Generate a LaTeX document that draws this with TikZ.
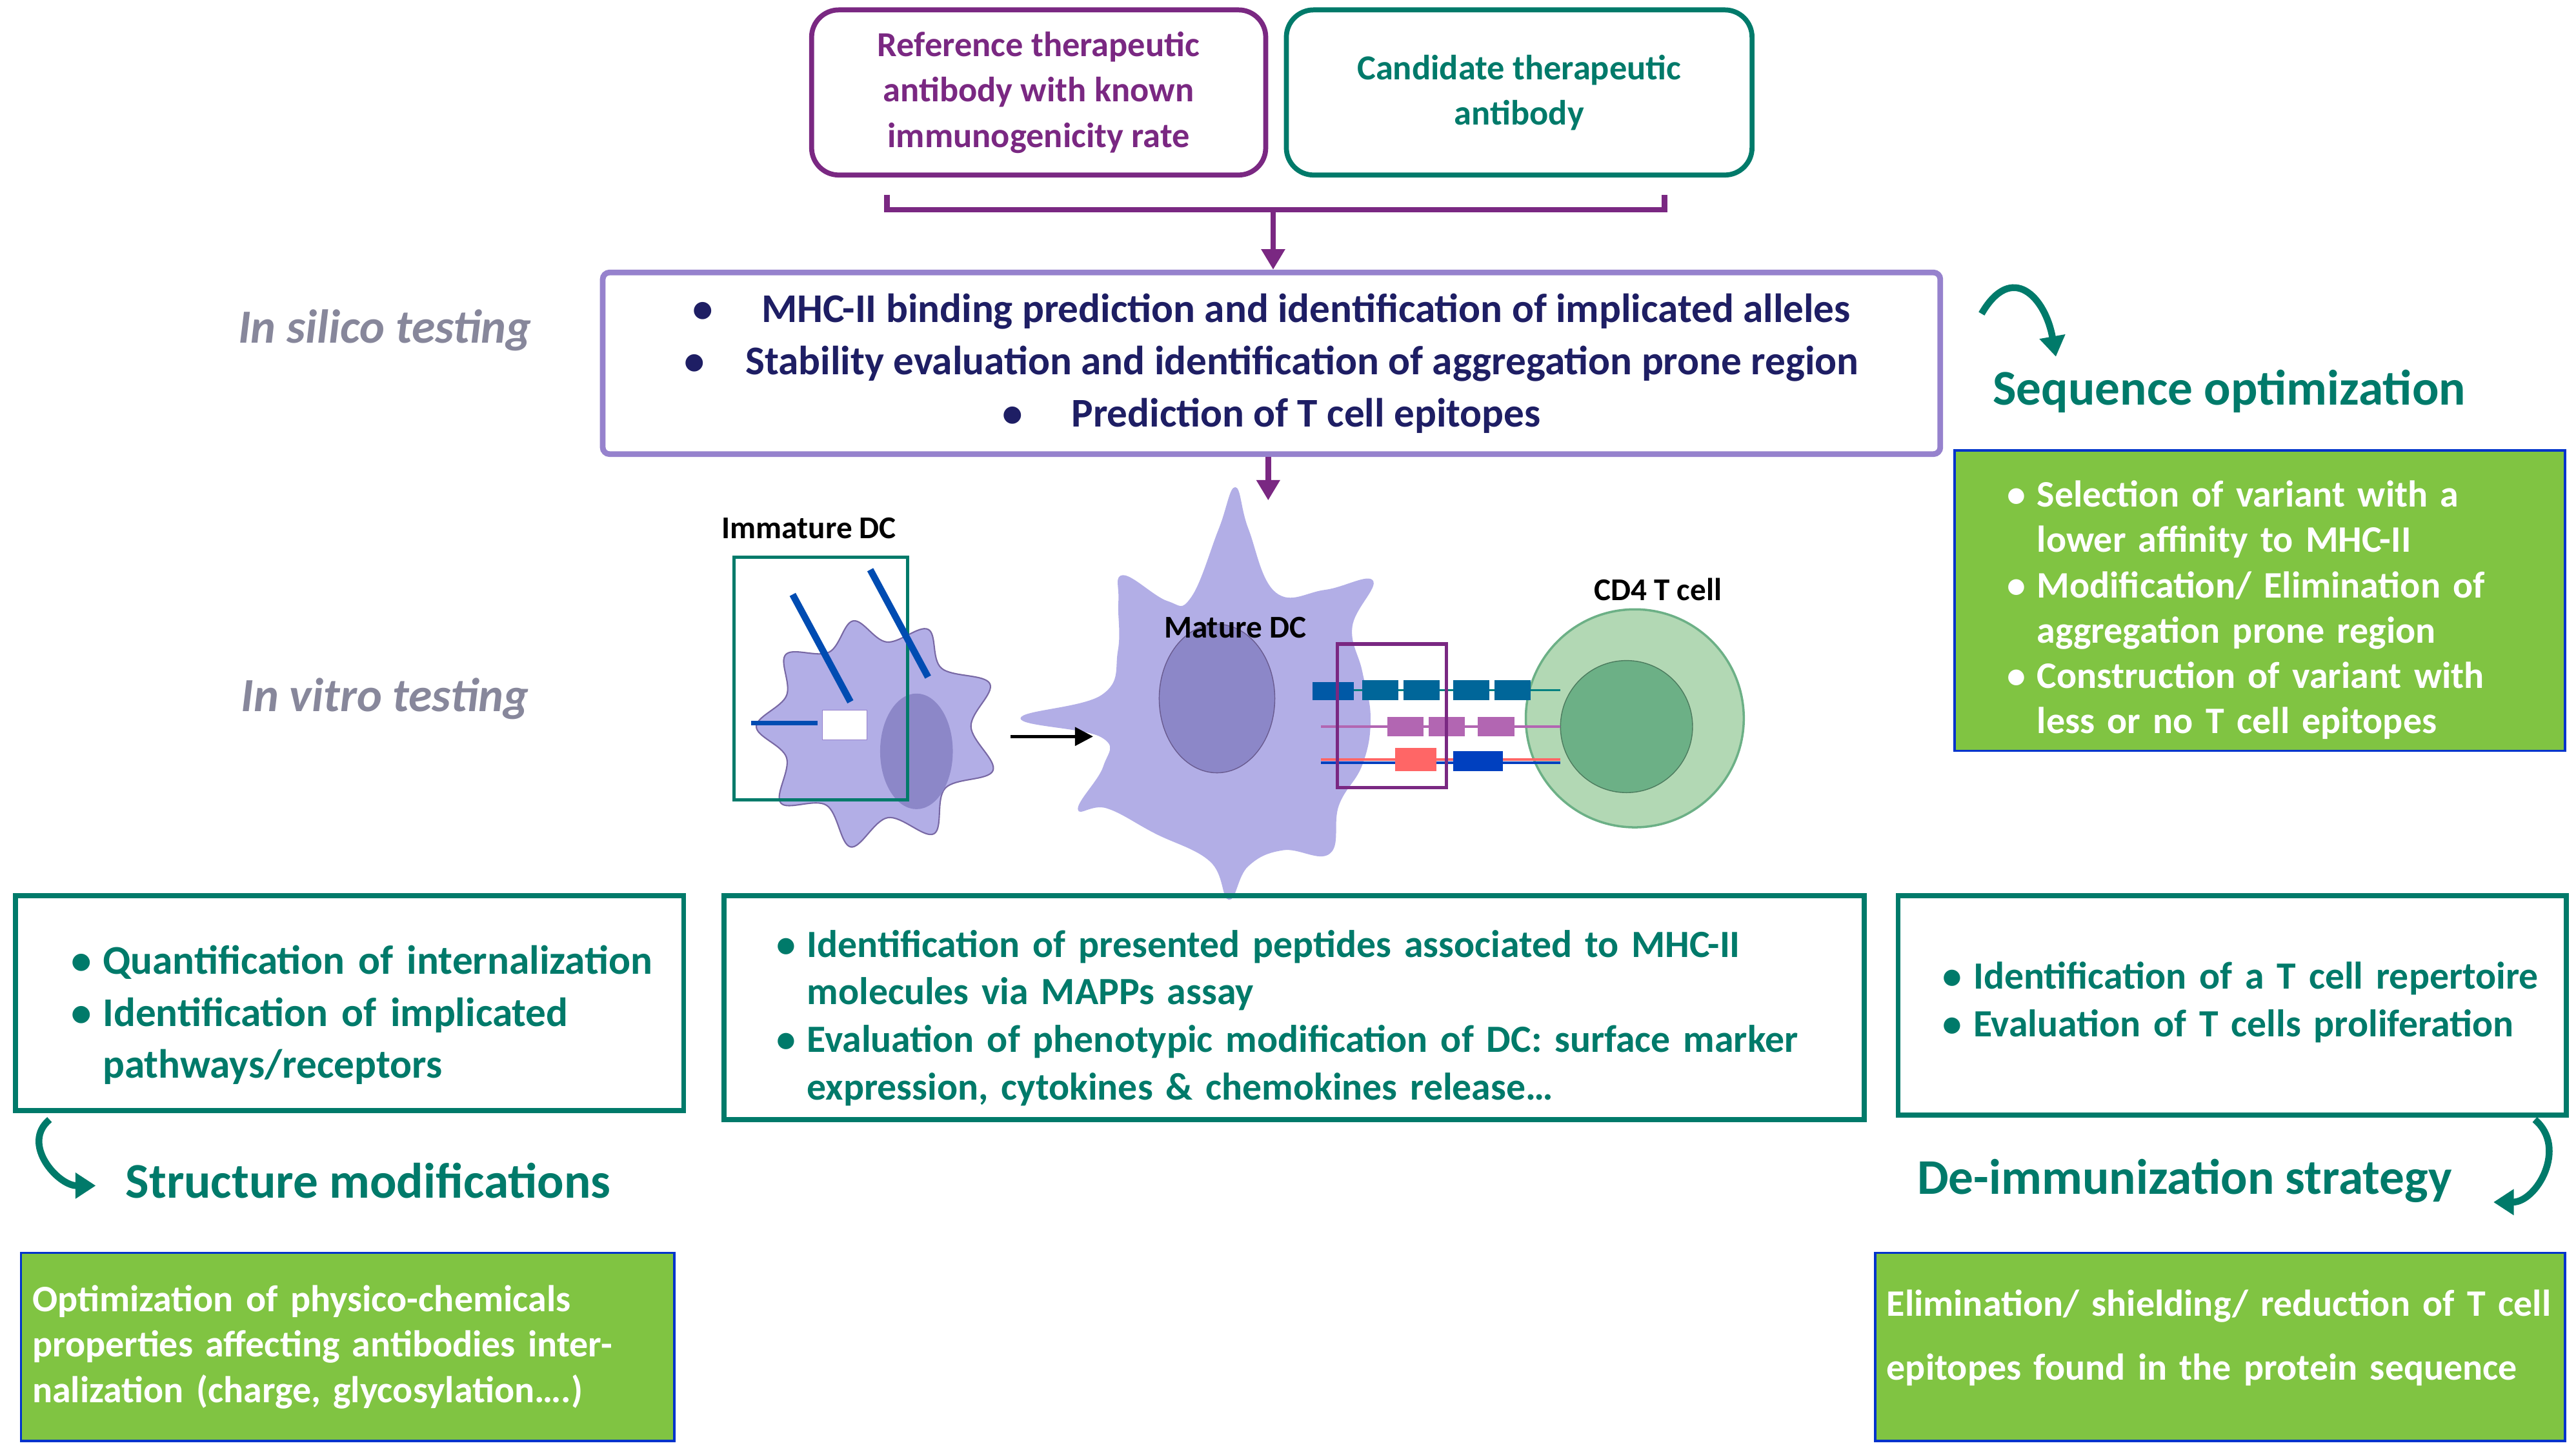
\documentclass[tikz,border=0pt]{standalone}
\usepackage{fontspec}
\setmainfont{Carlito}
\usepackage{enumitem}
\usetikzlibrary{arrows.meta, positioning}

\definecolor{teal1}{RGB}{0,122,106}
\definecolor{purp}{RGB}{122,40,130}
\definecolor{lav}{RGB}{150,130,205}
\definecolor{navy}{RGB}{30,30,100}
\definecolor{leaf}{RGB}{128,196,66}
\definecolor{gry}{RGB}{135,135,155}
\definecolor{cellc}{RGB}{178,174,230}
\definecolor{nucc}{RGB}{140,135,200}
\definecolor{tout}{RGB}{178,216,180}
\definecolor{tin}{RGB}{108,176,134}

\tikzset{
  topbox/.style={draw, rounded corners=12pt, line width=2.2pt, align=center,
    font=\fontsize{15.5}{20}\selectfont\bfseries, inner sep=2pt},
  tealbox/.style={draw=teal1, line width=2.2pt, anchor=north west, text=teal1,
    font=\fontsize{17}{21}\selectfont\bfseries, inner sep=6pt},
  greenbox/.style={draw=blue!60!teal, line width=1pt, fill=leaf, anchor=north west,
    text=white, font=\fontsize{16.5}{20}\selectfont\bfseries, inner sep=5pt},
  title/.style={text=teal1, font=\fontsize{22}{26}\selectfont\bfseries},
  side/.style={text=gry, font=\fontsize{21}{26}\selectfont\bfseries\itshape},
  cellname/.style={font=\fontsize{14}{17}\selectfont\bfseries},
  turn/.style={-{Triangle[length=9pt,width=11pt]}, line width=3pt, teal1}
}
\setlist[itemize]{nosep, leftmargin=1.5em, label=\textbullet}

\begin{document}
\begin{tikzpicture}[x=0.0256cm, y=-0.0256cm]
\useasboundingbox (0,0) rectangle (1560,878);

% top boxes
\node[topbox, draw=purp, text=purp, minimum width=275*0.0256cm, minimum height=100*0.0256cm]
  (ref) at (629,56) {Reference therapeutic\\antibody with known\\immunogenicity rate};
\node[topbox, draw=teal1, text=teal1, minimum width=282*0.0256cm, minimum height=100*0.0256cm]
  (cand) at (920,56) {Candidate therapeutic\\antibody};
\coordinate (bl) at (537,118); \coordinate (br) at (1008,118);
\draw[purp, line width=2.5pt] (bl) -- ++(0,9) -| (br);
\coordinate (bm) at (771,127);

% in silico
\node[draw=lav, line width=2.5pt, rounded corners=3pt, minimum width=810*0.0256cm,
  minimum height=110*0.0256cm, align=center, text=navy,
  font=\fontsize{18}{23}\selectfont\bfseries] (silico) at (770,220)
  {\textbullet\hspace{1.2em}MHC-II binding prediction and identification of implicated alleles\\
   \textbullet\hspace{1em}Stability evaluation and identification of aggregation prone region\\
   \textbullet\hspace{1.2em}Prediction of T cell epitopes};
\draw[purp, line width=2.5pt, -{Triangle[length=9pt,width=10pt]}] (bm) -- (silico.north -| bm);
\coordinate (mt) at (768,303);
\draw[purp, line width=2.5pt, -{Triangle[length=9pt,width=10pt]}] (silico.south -| mt) -- (mt);

\node[side] (ins) at (233,200) {In silico testing};
\node[side] (inv) at (233,423) {In vitro testing};

% immature DC
\fill[cellc, draw=lav!80!black, line width=0.6pt, shift={(528,440)}] plot[smooth cycle, tension=0.6]
  coordinates {(0:60) (20:78) (40:58) (60:75) (80:56) (100:74) (120:55) (140:72) (160:55)
  (180:70) (200:55) (220:68) (240:52) (260:65) (280:52) (300:68) (320:55) (340:76)};
\fill[nucc] (555,455) ellipse (22 and 35);
\node[draw=teal1, line width=1.5pt, minimum width=105*0.0256cm, minimum height=147*0.0256cm]
  (imbox) at (497,411) {};
\foreach \a/\b in {480/360, 527/345}
  \draw[teal!60!blue, line width=3pt] (\a,\b) -- ++(35,65);
\draw[teal!60!blue, line width=2pt] (455,438) -- (495,438);
\fill[white, draw=lav] (498,430) rectangle (525,448);
\node[cellname] (imlab) at (490,320) {Immature DC};

% mature DC
\fill[cellc, shift={(748,435)}] plot[smooth cycle, tension=0.7]
  coordinates {(-110:78) (-95:115) (-90:140) (-86:115) (-72:80) (-55:95) (-45:118) (-38:90)
  (-20:82) (0:82) (20:82) (40:82) (55:100) (70:85) (85:90) (92:110) (100:88) (125:85)
  (145:95) (150:110) (160:85) (172:82) (180:130) (190:82) (-150:82) (-135:100) (-128:110) (-120:82)};
\fill[nucc, draw=lav!70!black] (737,423) ellipse (35 and 45);
\node[cellname] (mlab) at (748,380) {Mature DC};
\draw[line width=1.5pt, -{Triangle[length=8pt,width=8pt]}] (612,446) -- (662,446);

% CD4 T cell
\fill[tout, draw=tin, line width=1pt] (990,435) circle (66);
\fill[tin, draw=tin!70!black] (985,440) circle (40);
\node[cellname] (tlab) at (1004,357) {CD4 T cell};

% synapse
\foreach \y/\c in {418/teal, 440/violet!60, 460/red!60, 462/blue!50!teal}{
  \draw[\c, line width=1pt] (800,\y) -- (945,\y);}
\fill[teal!70!blue] (795,413) rectangle (820,424);
\foreach \x in {825,850,880,905}
  \fill[teal!80!blue] (\x,412) rectangle ++(22,12);
\foreach \x in {840,865,895}
  \fill[violet!60] (\x,434) rectangle ++(22,12);
\fill[red!60] (845,453) rectangle ++(25,14);
\fill[blue!50!teal] (880,455) rectangle ++(30,12);
\draw[purp, line width=1.5pt] (810,390) rectangle (876,477);

% sequence optimization
\node[title] (seqt) at (1350,237) {Sequence optimization};
\draw[turn] (1200,190) to[out=60, in=100, looseness=1.8] (1245,216);
\node[greenbox, text width=356*0.0256cm, minimum height=165*0.0256cm] (seqb) at (1183,272)
  {\begin{itemize}[leftmargin=1.9em]
   \item Selection of variant with a lower affinity to MHC-II
   \item Modification/ Elimination of aggregation prone region
   \item Construction of variant with less or no T cell epitopes
   \end{itemize}};

% bottom boxes
\node[tealbox, text width=388*0.0256cm, minimum height=130*0.0256cm,
  font=\fontsize{18}{23}\selectfont\bfseries] (intb) at (8,541)
  {\begin{itemize}[leftmargin=1.8em]
   \item Quantification of internalization
   \item Identification of implicated pathways/receptors
   \end{itemize}};
\node[tealbox, text width=674*0.0256cm, minimum height=131*0.0256cm] (mapb) at (437,541)
  {\begin{itemize}[leftmargin=1.8em]
   \item Identification of presented peptides associated to MHC-II molecules via MAPPs assay
   \item Evaluation of phenotypic modification of DC: surface marker expression, cytokines \& chemokines release…
   \end{itemize}};
\node[tealbox, text width=388*0.0256cm, minimum height=130*0.0256cm] (repb) at (1148,541)
  {\vspace{14pt}\begin{itemize}[leftmargin=1.6em]
   \item Identification of a T cell repertoire
   \item Evaluation of T cells proliferation
   \end{itemize}\vspace{26pt}};

% structure modifications
\node[title] (strt) at (223,715) {Structure modifications};
\draw[turn] (30,678) to[out=220, in=180, looseness=1.2] (58,718);
\node[greenbox, text width=382*0.0256cm, minimum height=114*0.0256cm] (strb) at (12,758)
  {Optimization of physico-chemicals properties affecting antibodies internalization (charge, glycosylation….)};

% de-immunization
\node[title] (deit) at (1323,715) {De-immunization strategy};
\draw[turn] (1535,678) to[out=-40, in=0, looseness=1.2] (1510,728);
\node[greenbox, text width=404*0.0256cm, minimum height=114*0.0256cm] (deib) at (1135,758)
  {\vspace{8pt}Elimination/ shielding/ reduction of T cell epitopes found in the protein sequence\vspace{8pt}};
\end{tikzpicture}
\end{document}
